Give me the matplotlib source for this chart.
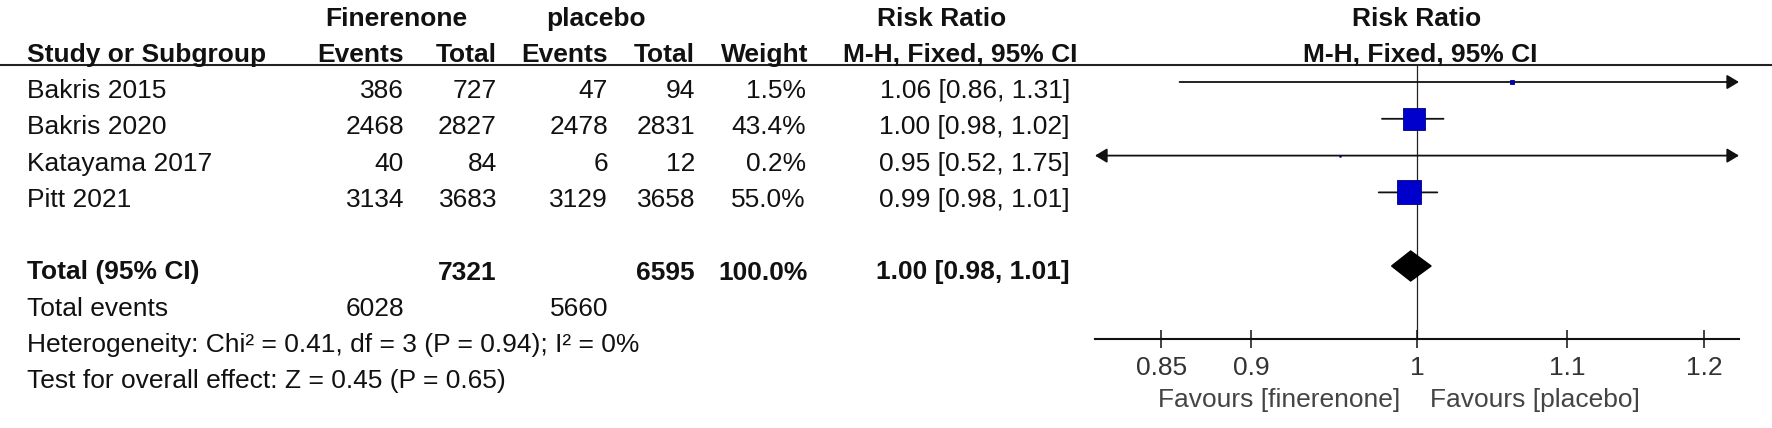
import numpy as np
import matplotlib.pyplot as plt
from matplotlib.patches import Polygon
from matplotlib.ticker import FixedLocator, NullLocator

plt.rcParams['font.family'] = ['Liberation Sans', 'DejaVu Sans']

# table data
studies = ['Bakris 2015', 'Bakris 2020', 'Katayama 2017', 'Pitt 2021']
fin_events = [386, 2468, 40, 3134]
fin_total = [727, 2827, 84, 3683]
pla_events = [47, 2478, 6, 3129]
pla_total = [94, 2831, 12, 3658]
weights = [1.5, 43.4, 0.2, 55.0]
ci_text = ['1.06 [0.86, 1.31]', '1.00 [0.98, 1.02]', '0.95 [0.52, 1.75]', '0.99 [0.98, 1.01]']

# point estimates and intervals as drawn in the plot
rr = [1.062, 0.998, 0.952, 0.995]
rr_lo = [0.86, 0.978, 0.52, 0.976]
rr_hi = [1.31, 1.017, 1.75, 1.013]

total_fin, total_pla = 7321, 6595
total_weight = 100.0
total_events_fin, total_events_pla = 6028, 5660
total_ci_text = '1.00 [0.98, 1.01]'
total_rr, total_lo, total_hi = 0.996, 0.984, 1.009

het_text = 'Heterogeneity: Chi² = 0.41, df = 3 (P = 0.94); I² = 0%'
test_text = 'Test for overall effect: Z = 0.45 (P = 0.65)'

ticks = [0.85, 0.9, 1, 1.1, 1.2]
tick_labels = ['0.85', '0.9', '1', '1.1', '1.2']
xmin, xmax = 0.815, 1.227

# figure in pixel units
W, H = 1772, 428
fig = plt.figure(figsize=(W / 100, H / 100), dpi=100)
ax = fig.add_axes([0, 0, 1, 1])
ax.set_xlim(0, W)
ax.set_ylim(H, 0)
ax.axis('off')

fs = 19
ink = '#111111'


def put(x, y, s, ha='left', bold=False, color=ink):
    ax.text(x, y, s, ha=ha, va='baseline', fontsize=fs,
            fontweight='bold' if bold else 'normal', color=color)


# column right edges
x_name = 27
x_ev1, x_tot1, x_ev2, x_tot2, x_wt, x_ci = 404, 497, 608, 695, 806, 1070

# headers
put(396, 26, 'Finerenone', ha='center', bold=True)
put(596, 26, 'placebo', ha='center', bold=True)
put(942, 26, 'Risk Ratio', ha='center', bold=True)
put(1417, 26, 'Risk Ratio', ha='center', bold=True)

put(x_name, 62, 'Study or Subgroup', bold=True)
put(x_ev1, 62, 'Events', ha='right', bold=True)
put(x_tot1, 62, 'Total', ha='right', bold=True)
put(x_ev2, 62, 'Events', ha='right', bold=True)
put(x_tot2, 62, 'Total', ha='right', bold=True)
put(x_wt + 2, 62, 'Weight', ha='right', bold=True)
put(843, 62, 'M-H, Fixed, 95% CI', bold=True)
put(1420, 62, 'M-H, Fixed, 95% CI', ha='center', bold=True)
ax.axhline(65, color='#222222', lw=1.5)

# text rows sit on a regular grid (row 4 left empty)
row0, step = 98, 36.3


def row_y(k):
    return row0 + k * step


for i, name in enumerate(studies):
    y = row_y(i)
    put(x_name, y, name)
    put(x_ev1, y, str(fin_events[i]), ha='right')
    put(x_tot1, y, str(fin_total[i]), ha='right')
    put(x_ev2, y, str(pla_events[i]), ha='right')
    put(x_tot2, y, str(pla_total[i]), ha='right')
    put(x_wt, y, f'{weights[i]:.1f}%', ha='right')
    put(x_ci, y, ci_text[i], ha='right')

# totals
y_tot = row_y(5)
put(x_name, y_tot, 'Total (95% CI)', bold=True)
put(x_tot1, y_tot, str(total_fin), ha='right', bold=True)
put(x_tot2, y_tot, str(total_pla), ha='right', bold=True)
put(x_wt + 2, y_tot, f'{total_weight:.1f}%', ha='right', bold=True)
put(x_ci, y_tot, total_ci_text, ha='right', bold=True)

put(x_name, row_y(6), 'Total events')
put(x_ev1, row_y(6), str(total_events_fin), ha='right')
put(x_ev2, row_y(6), str(total_events_pla), ha='right')
put(x_name, row_y(7), het_text)
put(x_name, row_y(8), test_text)

# forest plot axes, y in pixel rows
ax_left, ax_right, ax_top, ax_bot = 1095, 1739, 65, 339
fx = fig.add_axes([ax_left / W, (H - ax_bot) / H, (ax_right - ax_left) / W, (ax_bot - ax_top) / H])
fx.set_xscale('log')
fx.set_xlim(xmin, xmax)
fx.set_ylim(ax_bot, ax_top)
fx.patch.set_alpha(0)
for s in ['top', 'left', 'right']:
    fx.spines[s].set_visible(False)
fx.spines['bottom'].set_linewidth(1.5)
fx.spines['bottom'].set_color('#111111')
fx.set_yticks([])
fx.xaxis.set_major_locator(FixedLocator(ticks))
fx.xaxis.set_minor_locator(NullLocator())
fx.set_xticklabels(tick_labels)
fx.tick_params(axis='x', direction='inout', length=13, width=1.1, pad=6,
               labelsize=fs, labelcolor='#333333', color='#111111')

fx.axvline(1, color='#222222', lw=0.9, zorder=1)

mark0, mstep = 82, 36.8
for i in range(len(studies)):
    y = mark0 + i * mstep
    lo, hi = max(rr_lo[i], xmin), min(rr_hi[i], xmax)
    if rr_lo[i] < xmin and rr_hi[i] > xmax:
        style = '<|-|>'
    elif rr_hi[i] > xmax:
        style = '-|>'
    elif rr_lo[i] < xmin:
        style = '<|-'
    else:
        style = '-'
    if style != '-':
        style += ',head_length=0.4,head_width=0.24'
    fx.annotate('', xy=(hi, y), xytext=(lo, y),
                arrowprops=dict(arrowstyle=style, mutation_scale=18, lw=1.3,
                                color='#111111', shrinkA=0, shrinkB=0), zorder=2)
    side = 3.3 * np.sqrt(weights[i]) * 0.72
    fx.plot([rr[i]], [y], marker='s', markersize=side, markerfacecolor='#0000CC',
            markeredgecolor='#000080', markeredgewidth=0.6, zorder=3)

# pooled diamond
yd, hd = mark0 + 5 * mstep, 15
fx.add_patch(Polygon([(total_lo, yd), (total_rr, yd - hd), (total_hi, yd), (total_rr, yd + hd)],
                     closed=True, facecolor='black', edgecolor='black', zorder=3))

put(1400, 407, 'Favours [finerenone]', ha='right', color='#444444')
put(1430, 407, 'Favours [placebo]', color='#444444')

fig.savefig('out.png', dpi=100)
